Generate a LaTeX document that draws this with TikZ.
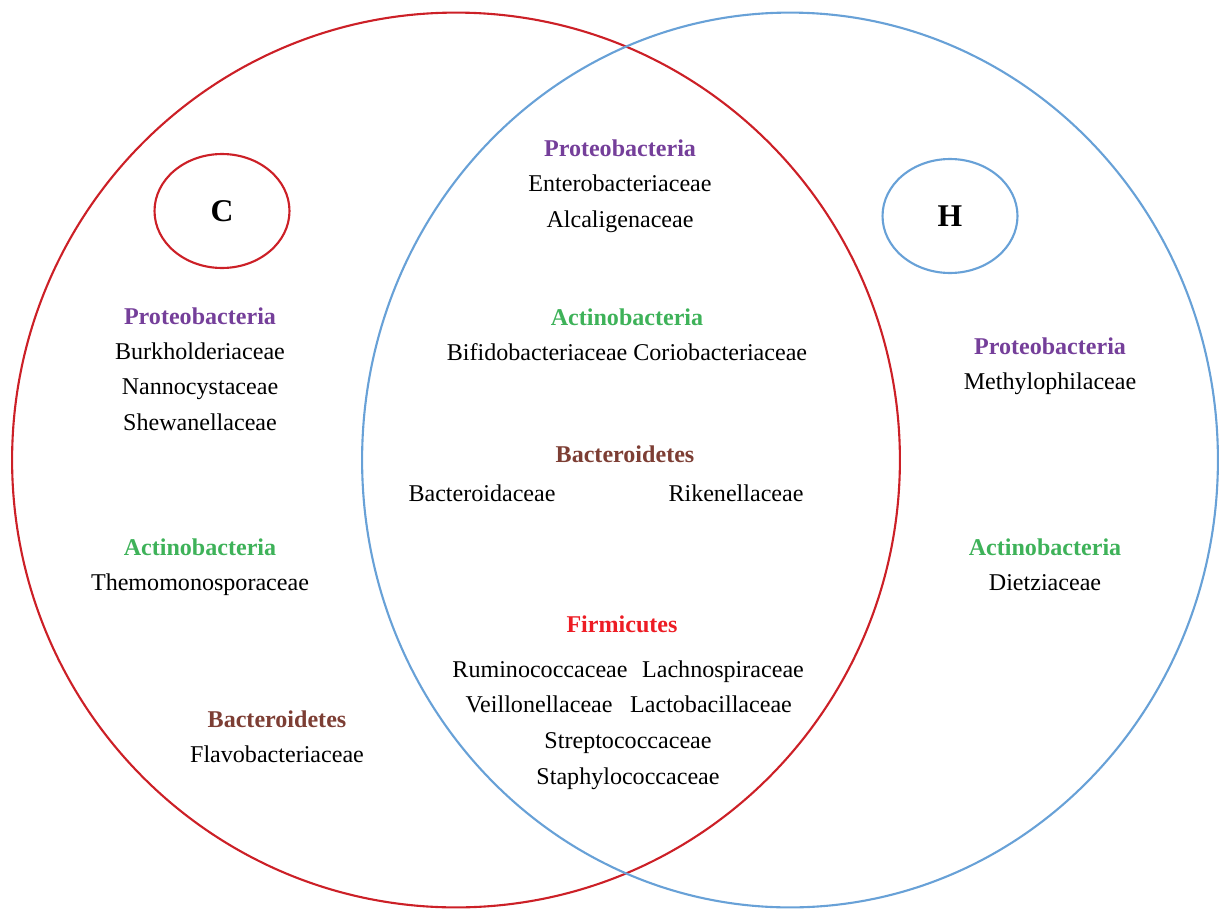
\documentclass[tikz,border=0pt]{standalone}
\usepackage{fontspec}
\setmainfont{Liberation Serif}
\usetikzlibrary{shapes.geometric, positioning}
\definecolor{setred}{RGB}{204,32,39}
\definecolor{setblue}{RGB}{104,161,215}
\definecolor{proteo}{RGB}{117,63,154}
\definecolor{actino}{RGB}{62,178,89}
\definecolor{bactero}{RGB}{125,62,52}
\definecolor{firmi}{RGB}{237,28,36}
\newcommand{\phylum}[2]{\textcolor{#1}{\textbf{#2}}}
\tikzset{
    bigset/.style={
        ellipse,
        draw,
        line width=1.2pt,
        inner sep=0pt
    },
    tag/.style={
        ellipse,
        draw,
        line width=1.2pt,
        inner sep=0pt,
        minimum width=2.7cm,
        minimum height=2.28cm,
        font=\fontsize{18}{20}\selectfont\bfseries
    },
    taxa/.style={
        align=center,
        inner sep=1pt,
        font=\fontsize{13.7}{20.2}\selectfont
    },
    family/.style={
        taxa,
        anchor=base
    }
}
\begin{document}
\begin{tikzpicture}[x=0.02cm, y=-0.02cm]
    \useasboundingbox (0,0) rectangle (1219,909);

    % Sets
    \node (cset) [bigset, draw=setred, minimum width=17.76cm, minimum height=17.9cm] at (456,460) {};
    \node (hset) [bigset, draw=setblue, minimum width=17.12cm, minimum height=17.9cm] at (790,460) {};
    \node (ctag) [tag, draw=setred] at (222,211) {\raisebox{-1pt}{C}};
    \node (htag) [tag, draw=setblue] at (950,216) {H};

    % C only
    \node (cproteo) [taxa] at (200,369) {
        \phylum{proteo}{Proteobacteria}\\
        Burkholderiaceae\\
        Nannocystaceae\\
        Shewanellaceae
    };
    \node (cactino) [taxa] at (200,567) {
        \phylum{actino}{Actinobacteria}\\
        Themomonosporaceae
    };
    \node (cbactero) [taxa] at (277,737) {
        \phylum{bactero}{Bacteroidetes}\\
        Flavobacteriaceae
    };

    % Shared
    \node (mproteo) [taxa] at (620,186) {
        \phylum{proteo}{Proteobacteria}\\
        Enterobacteriaceae\\
        Alcaligenaceae
    };
    \node (mactino) [taxa] at (627,335) {
        \phylum{actino}{Actinobacteria}\\
        Bifidobacteriaceae Coriobacteriaceae
    };
    \node (mbactero) [family] at (625,462) {\phylum{bactero}{Bacteroidetes}};
    \node (bacteroid) [family] at (482,501) {Bacteroidaceae};
    \node (rikenell) [family] at (736,501) {Rikenellaceae};
    \node (mfirmi) [family] at (622,632) {\phylum{firmi}{Firmicutes}};
    \node (rumino) [family] at (540,677) {Ruminococcaceae};
    \node (lachno) [family] at (723,677) {Lachnospiraceae};
    \node (veillo) [family] at (539,712) {Veillonellaceae};
    \node (lacto) [family] at (711,712) {Lactobacillaceae};
    \node (strepto) [taxa] at (628,761) {
        Streptococcaceae\\
        Staphylococcaceae
    };

    % H only
    \node (hproteo) [taxa] at (1050,366) {
        \phylum{proteo}{Proteobacteria}\\
        Methylophilaceae
    };
    \node (hactino) [taxa] at (1045,565) {
        \phylum{actino}{Actinobacteria}\\
        Dietziaceae
    };

\end{tikzpicture}
\end{document}
